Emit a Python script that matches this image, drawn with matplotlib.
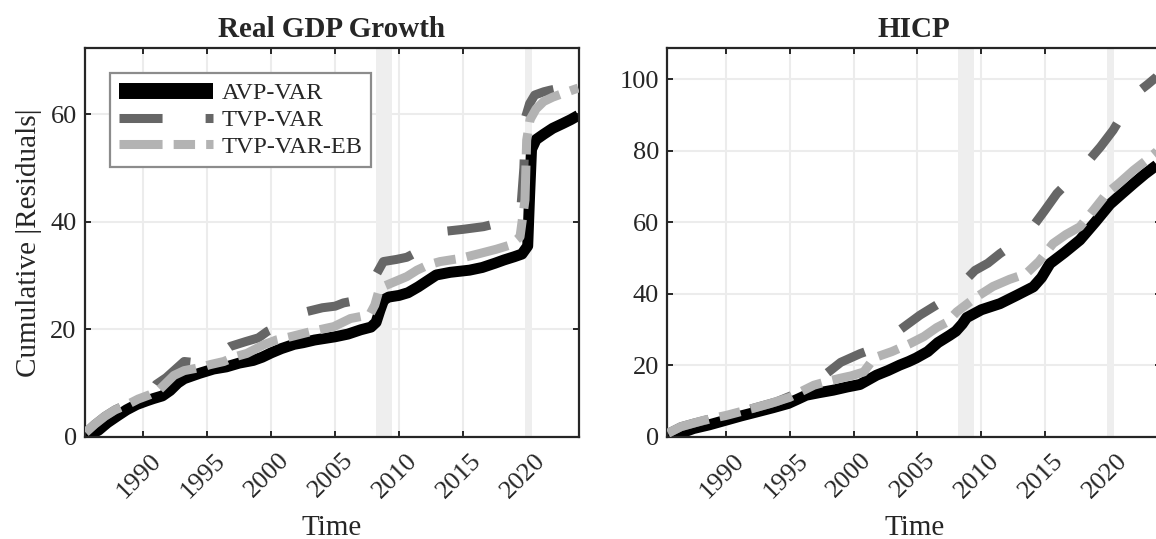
import matplotlib
matplotlib.use("Agg")
import matplotlib.pyplot as plt
from matplotlib.transforms import ScaledTranslation

plt.rcParams['font.family'] = ['Liberation Serif', 'DejaVu Serif']
plt.rcParams['lines.scale_dashes'] = False

# ---------------- data ----------------
model_names = ["AVP-VAR", "TVP-VAR", "TVP-VAR-EB"]
panel_titles = ["Real GDP Growth", "HICP"]
recessions = [(2008.2, 2009.45), (2019.85, 2020.4)]

# Real GDP growth panel
gdp_avp_t = [1985.5, 1986.0, 1986.5, 1987.2, 1988.0, 1988.7, 1989.5, 1990.3, 1990.8, 1991.5,
             1992.1, 1992.7, 1993.2, 1994.4, 1995.5, 1996.5, 1997.5, 1998.6, 1999.3, 2000.0,
             2000.8, 2001.8, 2002.5, 2003.4, 2004.2, 2005.0, 2006.0, 2007.0, 2007.8, 2008.2,
             2008.5, 2008.8, 2009.2, 2010.0, 2010.7, 2011.5, 2012.2, 2012.9, 2014.0, 2015.5,
             2016.5, 2017.5, 2018.2, 2019.0, 2019.6, 2020.05, 2020.2, 2020.35, 2020.7, 2021.3,
             2022.0, 2022.8, 2023.4, 2024.0]
gdp_avp_v = [0.0, 0.6, 1.2, 2.6, 3.9, 5.0, 6.0, 6.7, 7.1, 7.6,
             8.6, 10.0, 10.8, 11.8, 12.6, 13.0, 13.7, 14.2, 14.8, 15.6,
             16.4, 17.2, 17.5, 18.0, 18.3, 18.6, 19.1, 19.9, 20.4, 21.3,
             23.5, 25.5, 26.0, 26.3, 26.8, 27.9, 29.0, 30.1, 30.6, 31.0,
             31.5, 32.3, 32.9, 33.5, 34.0, 35.5, 45.0, 53.5, 55.3, 56.3,
             57.4, 58.3, 59.0, 59.8]

gdp_tvp_t = [1985.5, 1986.2, 1987.0, 1987.8, 1988.7, 1989.6, 1990.5, 1991.0, 1991.8, 1992.5,
             1993.2, 1994.0, 1995.0, 1996.0, 1996.8, 1998.0, 1999.0, 1999.7, 2000.5, 2001.5,
             2002.8, 2004.0, 2005.0, 2005.65, 2006.5, 2007.5, 2008.0, 2008.26, 2008.77, 2009.8,
             2010.6, 2011.5, 2012.5, 2013.46, 2015.0, 2016.6, 2017.8, 2018.8, 2019.5, 2019.75,
             2019.9, 2020.2, 2020.6, 2021.3, 2021.8, 2022.8, 2024.0]
gdp_tvp_v = [0.8, 2.3, 3.8, 5.0, 6.0, 7.0, 8.0, 9.7, 11.0, 12.5,
             14.0, 13.8, 14.3, 15.5, 16.8, 17.7, 18.4, 19.6, 20.5, 21.7,
             23.3, 24.0, 24.3, 24.9, 25.3, 26.5, 28.5, 30.4, 32.6, 33.0,
             33.4, 34.5, 36.5, 38.2, 38.6, 39.1, 39.8, 40.5, 42.0, 50.0,
             59.6, 62.0, 63.6, 64.2, 64.5, 65.0, 66.0]

gdp_eb_t = [1985.5, 1986.2, 1987.0, 1987.8, 1988.7, 1989.6, 1990.5, 1991.2, 1991.8, 1992.4,
            1993.2, 1994.5, 1995.2, 1996.3, 1997.2, 1998.1, 1999.4, 2000.4, 2001.5, 2003.0,
            2004.9, 2006.2, 2007.7, 2008.1, 2008.4, 2008.8, 2009.8, 2010.6, 2011.4, 2012.3,
            2013.2, 2014.8, 2016.3, 2017.6, 2018.7, 2019.45, 2019.84, 2019.97, 2020.23, 2020.7,
            2021.3, 2022.0, 2022.8, 2024.0]
gdp_eb_v = [0.8, 2.3, 3.8, 5.0, 5.9, 7.0, 7.8, 8.6, 10.0, 11.4,
            12.3, 12.9, 13.4, 14.0, 14.9, 15.5, 17.1, 18.0, 18.6, 19.5,
            20.5, 22.0, 22.7, 24.5, 27.0, 28.0, 29.0, 29.8, 31.0, 32.0,
            32.6, 33.2, 34.1, 34.9, 35.7, 37.2, 44.1, 55.2, 59.0, 61.0,
            62.4, 63.2, 63.9, 64.9]

# HICP panel
hicp_avp_t = [1985.5, 1986.5, 1987.5, 1988.7, 1990.0, 1991.2, 1992.4, 1993.7, 1994.9, 1995.7,
              1996.3, 1997.3, 1998.4, 1999.5, 2000.5, 2001.2, 2001.8, 2002.7, 2003.6, 2004.3,
              2004.9, 2005.8, 2006.6, 2007.5, 2008.0, 2008.5, 2008.85, 2010.0, 2011.45, 2012.8,
              2014.06, 2014.7, 2015.36, 2016.5, 2017.7, 2018.9, 2020.05, 2021.0, 2021.9, 2022.8,
              2023.7, 2024.06]
hicp_avp_v = [0.0, 1.0, 2.3, 3.3, 4.6, 5.8, 6.9, 8.1, 9.3, 10.6,
              11.6, 12.3, 13.0, 13.9, 14.6, 16.0, 17.2, 18.5, 20.0, 21.0,
              22.0, 23.8, 26.3, 28.3, 29.5, 31.5, 33.3, 35.5, 37.2, 39.6,
              41.9, 44.5, 48.4, 51.5, 55.0, 60.0, 65.0, 68.0, 70.8, 73.5,
              75.9, 77.0]

hicp_tvp_t = [1985.5, 1986.5, 1987.5, 1988.5, 1990.0, 1992.0, 1994.0, 1995.5, 1997.0, 1997.9,
              1999.0, 2000.5, 2001.5, 2002.5, 2003.6, 2005.2, 2006.2, 2007.5, 2008.4, 2009.5,
              2010.5, 2011.45, 2012.6, 2013.8, 2014.9, 2015.9, 2017.0, 2018.2, 2019.3, 2020.3,
              2021.2, 2022.1, 2023.0, 2023.7, 2024.06]
hicp_tvp_v = [1.0, 2.8, 3.8, 4.7, 6.0, 7.8, 9.8, 12.0, 15.0, 17.7,
              20.8, 23.2, 24.5, 27.0, 29.8, 34.0, 36.2, 39.0, 42.5, 46.5,
              48.5, 51.2, 54.0, 57.7, 63.0, 68.0, 72.0, 76.4, 81.0, 85.7,
              91.0, 96.0, 98.5, 100.6, 102.0]

hicp_eb_t = [1985.5, 1986.5, 1987.5, 1988.3, 1989.2, 1990.1, 1991.8, 1993.5, 1995.0, 1996.0,
             1996.9, 1998.0, 1998.9, 1999.8, 2000.8, 2001.3, 2001.8, 2003.0, 2004.4, 2005.5,
             2006.5, 2007.3, 2008.07, 2009.5, 2010.9, 2012.2, 2013.5, 2014.5, 2015.6, 2016.6,
             2017.7, 2018.8, 2019.8, 2020.8, 2021.9, 2022.8, 2023.7, 2024.06]
hicp_eb_v = [1.0, 2.8, 3.8, 4.6, 5.3, 6.0, 7.6, 9.3, 11.0, 12.8,
             14.4, 15.5, 16.3, 17.0, 18.1, 20.5, 22.3, 23.8, 26.0, 28.0,
             30.5, 32.0, 34.9, 38.8, 42.0, 44.0, 45.6, 49.0, 54.0, 56.5,
             58.7, 63.5, 68.0, 71.0, 74.5, 77.0, 79.7, 81.0]

panel_series = [
    [(gdp_avp_t, gdp_avp_v), (gdp_tvp_t, gdp_tvp_v), (gdp_eb_t, gdp_eb_v)],
    [(hicp_avp_t, hicp_avp_v), (hicp_tvp_t, hicp_tvp_v), (hicp_eb_t, hicp_eb_v)],
]
x_ticks = [1990, 1995, 2000, 2005, 2010, 2015, 2020]
y_ticks = [[0, 20, 40, 60], [0, 20, 40, 60, 80, 100]]
y_limits = [(0, 72.3), (0, 108.6)]
x_limits = (1985.45, 2024.06)

# ---------------- styling ----------------
colors = ["#000000", "#666666", "#b3b3b3"]
widths = [7.9, 6.5, 6.5]
dash_styles = [None, (0, (31, 31)), (0, (31, 8, 15.4, 8))]
txt = "#262626"

fig = plt.figure(figsize=(11.56, 5.39), dpi=100)
positions = [[0.07353, 0.1898, 0.42734, 0.72059],
             [0.57742, 0.1898, 0.42708, 0.72059]]

for p in range(2):
    ax = fig.add_axes(positions[p])
    ax.set_axisbelow(True)
    for (a, b) in recessions:
        ax.axvspan(a, b, color="#eeeeee", lw=0, zorder=0.6)
    for k in range(3):
        t, v = panel_series[p][k]
        kw = dict(color=colors[k], lw=widths[k], zorder=2 + k,
                  solid_capstyle='butt', dash_capstyle='butt')
        if dash_styles[k] is not None:
            kw['linestyle'] = dash_styles[k]
        ax.plot(t, v, label=model_names[k], **kw)
    ax.set_xlim(*x_limits)
    ax.set_ylim(*y_limits[p])
    ax.set_xticks(x_ticks)
    ax.set_yticks(y_ticks[p])
    ax.grid(True, color="#ececec", lw=1.5, zorder=0.5)
    for s in ax.spines.values():
        s.set_color(txt)
        s.set_linewidth(1.6)
    ax.tick_params(direction='in', length=4, width=1.4, colors=txt,
                   labelsize=19, top=True, right=True)
    ax.tick_params(axis='y', pad=6)
    ax.tick_params(axis='x', pad=9)
    shift = ScaledTranslation(5 / 72, 0, fig.dpi_scale_trans)
    for lbl in ax.get_xticklabels():
        lbl.set_rotation(45)
        lbl.set_ha('right')
        lbl.set_va('top')
        lbl.set_rotation_mode('anchor')
        lbl.set_transform(lbl.get_transform() + shift)
    ax.set_title(panel_titles[p], fontsize=21, fontweight='bold', color=txt, pad=8)
    ax.set_xlabel("Time", fontsize=21, color=txt, labelpad=9.5)
    if p == 0:
        ax.set_ylabel("Cumulative |Residuals|", fontsize=21, color=txt, labelpad=6)
        leg = ax.legend(loc='upper left', bbox_to_anchor=(0.0506, 0.9364),
                        borderaxespad=0, fontsize=17.5, handlelength=3.85,
                        handletextpad=0.35, labelspacing=0.2, borderpad=0.38,
                        fancybox=False, framealpha=1, edgecolor="#8c8c8c")
        leg.get_frame().set_linewidth(1.6)
        for t_ in leg.get_texts():
            t_.set_color(txt)
        leg.get_lines()[0].set_linewidth(11.5)

fig.savefig("out.png", dpi=100)
